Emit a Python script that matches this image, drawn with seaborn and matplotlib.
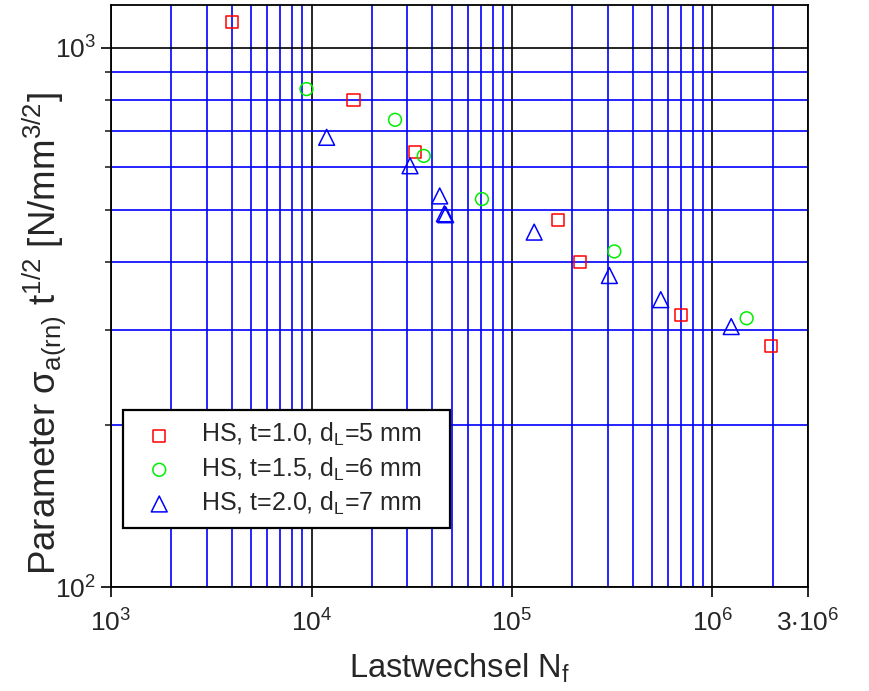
import numpy as np
import pandas as pd
import matplotlib
matplotlib.use("Agg")
import matplotlib.pyplot as plt
import seaborn as sns
from matplotlib.ticker import FixedLocator, FixedFormatter, LogLocator, NullFormatter

# values
n_t10 = [4.0e3, 1.62e4, 3.27e4, 1.70e5, 2.19e5, 6.95e5, 1.95e6]
s_t10 = [1116, 799, 640, 479, 400, 320, 280]

n_t15 = [9.44e3, 2.61e4, 3.63e4, 7.08e4, 3.24e5, 1.48e6]
s_t15 = [838, 735, 630, 524, 419, 315]

n_t20 = [1.19e4, 3.10e4, 4.36e4, 4.60e4, 4.67e4, 1.29e5, 3.06e5, 5.52e5, 1.24e6]
s_t20 = [682, 604, 531, 492, 490, 455, 378, 341, 304]

labels = [r"HS, t=1.0, d$_L$=5 mm",
          r"HS, t=1.5, d$_L$=6 mm",
          r"HS, t=2.0, d$_L$=7 mm"]

x_ticks = [1e3, 1e4, 1e5, 1e6, 3e6]
x_ticklabels = [r"$10^3$", r"$10^4$", r"$10^5$", r"$10^6$", r"3$\cdot$10$^6$"]
y_ticks = [1e2, 1e3]
y_ticklabels = [r"$10^2$", r"$10^3$"]

sns.set_style("ticks")
plt.rcParams["font.family"] = ["Liberation Sans", "DejaVu Sans"]
plt.rcParams["mathtext.fontset"] = "custom"
plt.rcParams["mathtext.rm"] = "Liberation Sans"
plt.rcParams["mathtext.it"] = "Liberation Sans:italic"
plt.rcParams["mathtext.default"] = "regular"

series = [
    (n_t10, s_t10, labels[0], "s", "#ff0000", 75),
    (n_t15, s_t15, labels[1], "o", "#00ee00", 85),
    (n_t20, s_t20, labels[2], "^", "#0000ff", 130),
]

fig = plt.figure(figsize=(8.7, 6.91), dpi=100)
ax = fig.add_axes([0.1276, 0.1505, 0.8013, 0.8423])

for xs, ys, lab, mk, col, size in series:
    df = pd.DataFrame({"N": xs, "S": ys})
    sns.scatterplot(data=df, x="N", y="S", ax=ax, marker=mk, s=size,
                    color=col, facecolor="none", edgecolor=col,
                    linewidth=1.1, label=lab, zorder=5)

ax.set_xscale("log")
ax.set_yscale("log")
ax.set_xlim(1e3, 3e6)
ax.set_ylim(100, 1200)

ax.xaxis.set_major_locator(FixedLocator(x_ticks))
ax.xaxis.set_major_formatter(FixedFormatter(x_ticklabels))
ax.yaxis.set_major_locator(FixedLocator(y_ticks))
ax.yaxis.set_major_formatter(FixedFormatter(y_ticklabels))
ax.xaxis.set_minor_locator(LogLocator(base=10, subs=np.arange(2, 10), numticks=100))
ax.yaxis.set_minor_locator(LogLocator(base=10, subs=np.arange(2, 10), numticks=100))
ax.xaxis.set_minor_formatter(NullFormatter())
ax.yaxis.set_minor_formatter(NullFormatter())

ax.grid(which="minor", color="#0000ff", linewidth=1.2)
ax.grid(which="major", color="black", linewidth=1.2)
ax.set_axisbelow(True)

ax.tick_params(which="major", direction="out", length=7, width=1.2,
               labelsize=19, color="black")
ax.tick_params(axis="x", which="major", pad=9)
ax.tick_params(axis="y", which="major", pad=4)
ax.tick_params(axis="y", which="minor", direction="out", length=4, width=1.2)
ax.tick_params(axis="x", which="minor", length=0)
for sp in ax.spines.values():
    sp.set_visible(True)
    sp.set_linewidth(1.3)
    sp.set_color("black")

ax.set_xlabel(r"Lastwechsel N$_f$", fontsize=23.5, labelpad=11)
ax.set_ylabel(r"Parameter $\sigma_{a(rn)}$ t$^{1/2}$ [N/mm$^{3/2}$]",
              fontsize=26.5)
ax.yaxis.set_label_coords(-0.062, 0.435)

leg = ax.legend(loc="lower left", bbox_to_anchor=(0.0172, 0.1014, 0.469, 0.2),
                mode="expand", borderaxespad=0, fontsize=18, fancybox=False,
                edgecolor="black", framealpha=1, handletextpad=0.68,
                borderpad=0.45, labelspacing=0.28, handlelength=2.0)
leg.get_frame().set_linewidth(1.6)

fig.savefig("out.png", dpi=100)
